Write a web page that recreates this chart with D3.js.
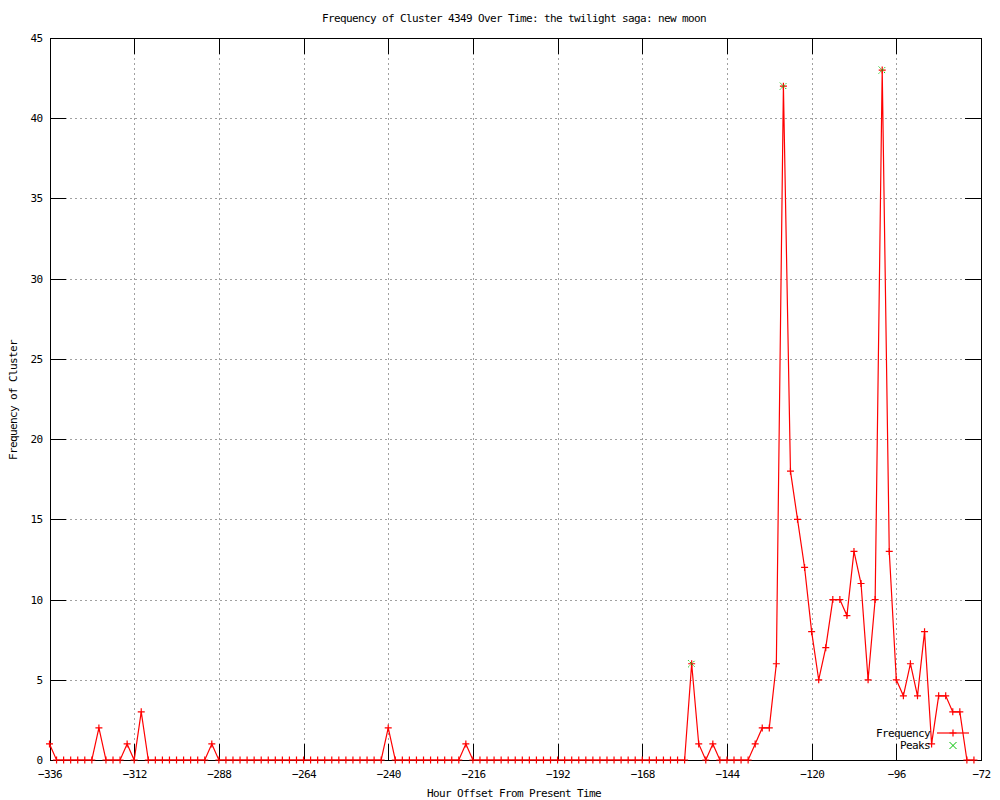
<!DOCTYPE html>
<html>
<head>
<meta charset="utf-8">
<script src="https://cdn.jsdelivr.net/npm/d3@7"></script>
<style>
  body { margin: 0; background: #fff; }
  text { font-family: "DejaVu Sans Mono", "Liberation Mono", monospace; font-size: 11px; letter-spacing: -0.62px; fill: #000; }
</style>
</head>
<body>
<div id="chart"></div>
<script>
// hourly samples every 2 hours, -336 .. -74
const hours = d3.range(-336, -73, 2)
const frequency = [
    1, 0, 0, 0, 0, 0, 0, 2, 0, 0, 0, 1, 0, 3,          // -336 .. -310
    0, 0, 0, 0, 0, 0, 0, 0, 0,                         // -308 .. -292
    1,                                                 // -290
    0, 0, 0, 0, 0, 0, 0, 0, 0, 0, 0, 0,
    0, 0, 0, 0, 0, 0, 0, 0, 0, 0, 0, 0,                // -288 .. -242
    2,                                                 // -240
    0, 0, 0, 0, 0, 0, 0, 0, 0, 0,                      // -238 .. -220
    1,                                                 // -218
    0, 0, 0, 0, 0, 0, 0, 0, 0, 0, 0, 0, 0, 0, 0, 0,
    0, 0, 0, 0, 0, 0, 0, 0, 0, 0, 0, 0, 0, 0, 0,       // -216 .. -156
    6, 1, 0, 1, 0, 0, 0, 0, 0, 1, 2, 2, 6,             // -154 .. -130
    42, 18, 15, 12, 8, 5, 7, 10, 10, 9, 13, 11, 5, 10, // -128 .. -102
    43, 13, 5, 4, 6, 4, 8, 1, 4, 4, 3, 3, 0, 0         // -100 .. -74
]
const peakHours = [-154, -128, -100]
const peakValues = [6, 42, 43]

const xTicks = d3.range(-336, -71, 24)
const yTicks = d3.range(0, 46, 5)

const titleText = "Frequency of Cluster 4349 Over Time: the twilight saga: new moon"
const xLabel = "Hour Offset From Present Time"
const yLabel = "Frequency of Cluster"

const width = 1000
const height = 800
const plot = { left: 49.5, right: 981, top: 38, bottom: 760 }
const tickLen = 16

const svg = d3.select("#chart").append("svg")
    .attr("width", width)
    .attr("height", height)
    .style("background", "#fff")

const x = d3.scaleLinear().domain([-336, -72]).range([plot.left, plot.right])
const y = d3.scaleLinear().domain([0, 45]).range([plot.bottom, plot.top])

// grid
const grid = svg.append("g")
    .attr("stroke", "#a0a0a0")
    .attr("stroke-width", 1)
    .attr("stroke-dasharray", "2,3")
    .attr("shape-rendering", "crispEdges")
grid.selectAll(".gx")
    .data(xTicks.slice(1, -1))
    .join("line")
        .attr("x1", d => Math.round(x(d)) + 0.5)
        .attr("x2", d => Math.round(x(d)) + 0.5)
        .attr("y1", plot.top)
        .attr("y2", plot.bottom)
grid.selectAll(".gy")
    .data(yTicks.slice(1, -1))
    .join("line")
        .attr("y1", d => Math.round(y(d)) + 0.5)
        .attr("y2", d => Math.round(y(d)) + 0.5)
        .attr("x1", plot.left)
        .attr("x2", plot.right)

// axes via d3 axis, ticks pointing inward, mirrored
const axisBottom = d3.axisBottom(x).tickValues(xTicks).tickSize(-tickLen).tickPadding(10).tickSizeOuter(0)
const axisTop = d3.axisTop(x).tickValues(xTicks).tickSize(-tickLen).tickFormat("").tickSizeOuter(0)
const axisLeft = d3.axisLeft(y).tickValues(yTicks).tickSize(-tickLen).tickPadding(7).tickSizeOuter(0)
const axisRight = d3.axisRight(y).tickValues(yTicks).tickSize(-tickLen).tickFormat("").tickSizeOuter(0)

function styleAxis(g) {
    g.select(".domain").remove()
    g.selectAll(".tick line").attr("stroke", "#000").attr("shape-rendering", "crispEdges")
    g.selectAll(".tick text")
        .style("font-family", "\"DejaVu Sans Mono\", monospace")
        .style("font-size", "11px")
        .attr("fill", "#000")
}

svg.append("g").attr("transform", `translate(0,${plot.bottom})`).call(axisBottom).call(styleAxis)
svg.append("g").attr("transform", `translate(0,${plot.top})`).call(axisTop).call(styleAxis)
svg.append("g").attr("transform", `translate(${plot.left},0)`).call(axisLeft).call(styleAxis)
svg.append("g").attr("transform", `translate(${plot.right},0)`).call(axisRight).call(styleAxis)

// border
svg.append("rect")
    .attr("x", Math.round(plot.left) + 0.5)
    .attr("y", plot.top + 0.5)
    .attr("width", Math.round(plot.right) - Math.round(plot.left))
    .attr("height", plot.bottom - plot.top)
    .attr("fill", "none")
    .attr("stroke", "#000")
    .attr("shape-rendering", "crispEdges")

// frequency line
const data = hours.map((h, i) => ({ h: h, v: frequency[i] }))
const line = d3.line().x(d => x(d.h)).y(d => y(d.v))

svg.append("path")
    .datum(data)
    .attr("d", line)
    .attr("fill", "none")
    .attr("stroke", "#ff0000")
    .attr("stroke-width", 1.2)

const plusSize = 3.5
function plusPath(cx, cy) {
    return `M${cx - plusSize},${cy}H${cx + plusSize}M${cx},${cy - plusSize}V${cy + plusSize}`
}
function crossPath(cx, cy) {
    const s = 3.5
    return `M${cx - s},${cy - s}L${cx + s},${cy + s}M${cx - s},${cy + s}L${cx + s},${cy - s}`
}

svg.append("path")
    .attr("d", data.map(d => plusPath(x(d.h), y(d.v))).join(""))
    .attr("fill", "none")
    .attr("stroke", "#ff0000")
    .attr("stroke-width", 1.2)

// peaks
svg.append("path")
    .attr("d", peakHours.map((h, i) => crossPath(x(h), y(peakValues[i]))).join(""))
    .attr("fill", "none")
    .attr("stroke", "#00c000")
    .attr("stroke-width", 1)
    .attr("stroke-dasharray", "1.5,1")

// legend
const legend = svg.append("g")
legend.append("text").attr("x", 930).attr("y", 737).attr("text-anchor", "end").text("Frequency")
legend.append("line").attr("x1", 937).attr("x2", 969).attr("y1", 733).attr("y2", 733)
    .attr("stroke", "#ff0000").attr("stroke-width", 1.2)
legend.append("path").attr("d", plusPath(953, 733)).attr("stroke", "#ff0000").attr("stroke-width", 1.2)
legend.append("text").attr("x", 930).attr("y", 749).attr("text-anchor", "end").text("Peaks")
legend.append("path").attr("d", crossPath(953, 745.5)).attr("stroke", "#00c000").attr("stroke-width", 1)

// titles
svg.append("text").attr("x", 514).attr("y", 22).attr("text-anchor", "middle").text(titleText)
svg.append("text").attr("x", 514).attr("y", 797).attr("text-anchor", "middle").text(xLabel)
svg.append("text")
    .attr("transform", `translate(17,400) rotate(-90)`)
    .attr("text-anchor", "middle")
    .text(yLabel)
</script>
</body>
</html>
